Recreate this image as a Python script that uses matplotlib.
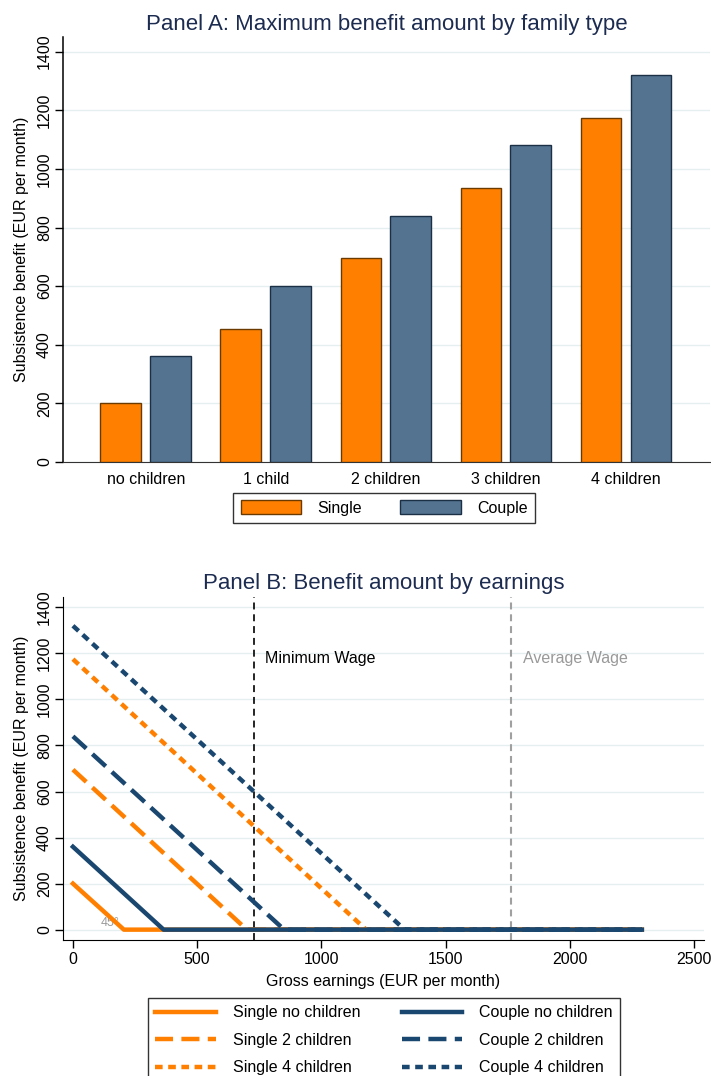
import matplotlib
matplotlib.use("Agg")
import matplotlib.pyplot as plt
import numpy as np

plt.rcParams['font.family'] = ['Liberation Sans', 'DejaVu Sans']
plt.rcParams['lines.scale_dashes'] = False

# Panel A data
family_types = ['no children', '1 child', '2 children', '3 children', '4 children']
single_max = [200, 455, 695, 935, 1175]
couple_max = [360, 600, 840, 1080, 1320]

# Panel B data: earnings (x) and benefit (y) vertices of each schedule
single0_x, single0_y = [0, 205, 2290], [200, 0, 0]
single2_x, single2_y = [0, 700, 2290], [695, 0, 0]
single4_x, single4_y = [0, 1180, 2290], [1175, 0, 0]
couple0_x, couple0_y = [0, 365, 2290], [360, 0, 0]
couple2_x, couple2_y = [0, 850, 2290], [840, 0, 0]
couple4_x, couple4_y = [0, 1335, 2290], [1320, 0, 0]
min_wage = 729
avg_wage = 1763

ORANGE = '#ff8000'
BAR_BLUE = '#547391'
NAVY = '#1a476f'
TITLE_C = '#1c2b50'
GRID_C = '#e6eff0'
FS = 11.5

fig = plt.figure(figsize=(7.11, 10.76), dpi=100)

# ---------------- Panel A ----------------
axA = fig.add_axes([63/711, 1-462/1076, (710-63)/711, (462-37)/1076])
pos = np.arange(len(family_types))
w = 0.34
axA.bar(pos - 0.208, single_max, w, color=ORANGE, edgecolor='#6b3a00', lw=1.0, label='Single', zorder=3)
axA.bar(pos + 0.208, couple_max, w, color=BAR_BLUE, edgecolor='#1b2f45', lw=1.0, label='Couple', zorder=3)
axA.set_xlim(-0.69, 4.70)
axA.set_ylim(0, 1450)
axA.set_yticks(range(0, 1401, 200))
axA.set_yticklabels([str(v) for v in range(0, 1401, 200)], rotation=90, va='center', fontsize=FS)
axA.set_xticks(pos)
axA.set_xticklabels(family_types, fontsize=FS)
axA.tick_params(axis='x', length=0, pad=7)
axA.tick_params(axis='y', length=6, width=1, pad=2)
axA.grid(axis='y', color=GRID_C, lw=1, zorder=0)
axA.set_axisbelow(True)
for s in ['top', 'right']:
    axA.spines[s].set_visible(False)
axA.spines['left'].set_linewidth(1.1)
axA.spines['bottom'].set_color('#333333')
axA.set_ylabel('Subsistence benefit (EUR per month)', fontsize=FS)
axA.yaxis.set_label_coords((29-63)/647, 0.5)
axA.set_title('Panel A: Maximum benefit amount by family type', fontsize=16, color=TITLE_C, pad=5)
legA = axA.legend(loc='upper center', bbox_to_anchor=(384/711, 1-493/1076), bbox_transform=fig.transFigure,
                  ncol=2, fontsize=FS, frameon=True, fancybox=False, edgecolor='black',
                  handlelength=3.8, handleheight=0.95, handletextpad=1.0, columnspacing=2.4,
                  borderpad=0.45, borderaxespad=0)
legA.get_frame().set_linewidth(1.0)

# ---------------- Panel B ----------------
axB = fig.add_axes([63/711, 1-940/1076, (704-63)/711, (940-597)/1076])
lw = 3.2
dash = (0, (13, 6))
dot = (0, (5.5, 4))
axB.plot(single0_x, single0_y, color=ORANGE, lw=lw, ls='-', label='Single no children', zorder=3)
axB.plot(single2_x, single2_y, color=ORANGE, lw=lw, ls=dash, label='Single 2 children', zorder=3)
axB.plot(single4_x, single4_y, color=ORANGE, lw=lw, ls=dot, label='Single 4 children', zorder=3)
axB.plot(couple0_x, couple0_y, color=NAVY, lw=lw, ls='-', label='Couple no children', zorder=4)
axB.plot(couple2_x, couple2_y, color=NAVY, lw=lw, ls=dash, label='Couple 2 children', zorder=4)
axB.plot(couple4_x, couple4_y, color=NAVY, lw=lw, ls=dot, label='Couple 4 children', zorder=4)
axB.axvline(min_wage, color='black', lw=1.2, ls=(0, (5, 3.5)), zorder=2)
axB.axvline(avg_wage, color='#a0a0a0', lw=1.5, ls=(0, (5, 3.5)), zorder=2)
axB.text(min_wage + 43, 1180, 'Minimum Wage', fontsize=FS, va='center', ha='left', color='black')
axB.text(avg_wage + 47, 1180, 'Average Wage', fontsize=FS, va='center', ha='left', color='#999999')
axB.text(110, 30, '45°', fontsize=9, color='#999999', va='center', ha='left', zorder=2)
axB.set_xlim(-40, 2540)
axB.set_ylim(-45, 1445)
axB.set_xticks(range(0, 2501, 500))
axB.set_xticklabels([str(v) for v in range(0, 2501, 500)], fontsize=FS)
axB.set_yticks(range(0, 1401, 200))
axB.set_yticklabels([str(v) for v in range(0, 1401, 200)], rotation=90, va='center', fontsize=FS)
axB.tick_params(axis='y', length=6, width=1, pad=2)
axB.tick_params(axis='x', length=6, width=1, pad=3)
axB.grid(axis='y', color=GRID_C, lw=1, zorder=0)
axB.set_axisbelow(True)
for s in ['top', 'right']:
    axB.spines[s].set_visible(False)
axB.set_xlabel('Gross earnings (EUR per month)', fontsize=FS, labelpad=5)
axB.set_ylabel('Subsistence benefit (EUR per month)', fontsize=FS)
axB.yaxis.set_label_coords((29-63)/641, 0.5)
axB.set_title('Panel B: Benefit amount by earnings', fontsize=16, color=TITLE_C, pad=6)
legB = axB.legend(loc='upper center', bbox_to_anchor=(384/711, 1-998/1076), bbox_transform=fig.transFigure,
                  ncol=2, fontsize=FS, frameon=True, fancybox=False, edgecolor='black',
                  handlelength=3.8, handletextpad=1.05, columnspacing=2.6, labelspacing=0.78,
                  borderpad=0.45, borderaxespad=0)
legB.get_frame().set_linewidth(1.0)

fig.savefig('out.png', dpi=100, facecolor='white')
